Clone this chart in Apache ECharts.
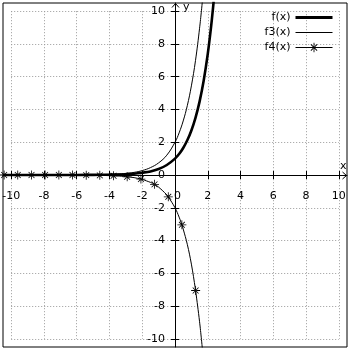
<!DOCTYPE html>
<html>
<head>
<meta charset="utf-8">
<script src="https://cdn.jsdelivr.net/npm/echarts@6/dist/echarts.min.js"></script>
<style>html,body{margin:0;padding:0;background:#fff}#c{width:350px;height:350px}</style>
</head>
<body>
<div id="c"></div>
<script>
// ---- data ----
var tickValues = [-10, -8, -6, -4, -2, 0, 2, 4, 6, 8, 10];
var seriesNames = ['f(x)', 'f3(x)', 'f4(x)'];

var fX  = [-10.5, -8, -6, -5, -4, -3.5, -3, -2.5, -2, -1.5, -1, -0.5, 0, 0.25, 0.5, 0.75, 1, 1.25, 1.5, 1.75, 2, 2.2, 2.36];
var fY  = [0, 0, 0, 0.01, 0.02, 0.03, 0.05, 0.08, 0.14, 0.22, 0.37, 0.61, 1.0, 1.28, 1.65, 2.12, 2.72, 3.49, 4.48, 5.75, 7.39, 9.03, 10.6];

var f3X = [-10.5, -8, -6, -5, -4, -3.5, -3, -2.5, -2, -1.5, -1, -0.5, 0, 0.25, 0.5, 0.75, 1, 1.25, 1.5, 1.67];
var f3Y = [0, 0, 0, 0.01, 0.04, 0.06, 0.1, 0.16, 0.27, 0.45, 0.74, 1.21, 2.0, 2.57, 3.3, 4.23, 5.44, 6.98, 8.96, 10.6];

var f4X = [-10.5, -8, -6, -5, -4, -3.5, -3, -2.5, -2, -1.5, -1, -0.5, 0, 0.25, 0.5, 0.75, 1, 1.25, 1.5, 1.67];
var f4Y = [0, 0, 0, -0.01, -0.04, -0.06, -0.1, -0.16, -0.27, -0.45, -0.74, -1.21, -2.0, -2.57, -3.3, -4.23, -5.44, -6.98, -8.96, -10.6];

var f4MarkX = [-10.43, -9.6, -8.76, -7.93, -7.09, -6.26, -5.42, -4.59, -3.75, -2.92, -2.08, -1.25, -0.41, 0.42, 1.26];
var f4MarkY = [0, 0, 0, 0, 0, 0, -0.01, -0.02, -0.05, -0.11, -0.25, -0.57, -1.33, -3.04, -7.05];

// ---- build series data ----
function pairs(xs, ys) { return xs.map(function (x, i) { return [x, ys[i]]; }); }
var f4Data = [];
f4X.forEach(function (x, i) { f4Data.push({ value: [x, f4Y[i]], symbol: 'none' }); });
f4MarkX.forEach(function (x, i) { f4Data.push({ value: [x, f4MarkY[i]] }); });
f4Data.sort(function (a, b) { return a.value[0] - b.value[0]; });

var star = 'path://M8.2,0H9.8V18H8.2Z M0,8.2H18V9.8H0Z M2.6,3.7L3.7,2.6L15.4,14.3L14.3,15.4Z M15.4,3.7L14.3,2.6L2.6,14.3L3.7,15.4Z';

var FONT = 'DejaVu Sans';
var gridLine = { show: true, lineStyle: { color: '#9a9a9a', type: [1, 2], width: 1 } };
var chart = echarts.init(document.getElementById('c'), null, { renderer: 'canvas' });

var U = 344 / 21;
var HALF = -10 * U; // move tick axes from the grid edge to the zero line
function inner() { return { left: 3 + 0.5 * U, top: 3 + 0.5 * U, width: 20 * U, height: 20 * U, outerBoundsMode: 'none', containLabel: false }; }
var tickStyle = { show: true, inside: false, length: 4, lineStyle: { color: '#000', width: 1 } };

chart.setOption({
  animation: false,
  textStyle: { fontFamily: FONT },
  grid: [
    { left: 3, top: 3, width: 344, height: 344, show: true, borderColor: '#000', borderWidth: 1, backgroundColor: 'rgba(0,0,0,0)', outerBoundsMode: 'none', containLabel: false },
    inner(),
    inner()
  ],
  legend: {
    orient: 'vertical', right: 16, top: 12, padding: 0,
    align: 'right', itemWidth: 37, itemHeight: 12, itemGap: 4,
    textStyle: { fontFamily: FONT, fontSize: 11, color: '#000' },
    data: [
      { name: seriesNames[0], itemStyle: { opacity: 0 }, lineStyle: { width: 3 } },
      { name: seriesNames[1], itemStyle: { opacity: 0 }, lineStyle: { width: 1 } },
      { name: seriesNames[2], lineStyle: { width: 1 } }
    ]
  },
  xAxis: [
    { gridIndex: 0, type: 'value', min: -10.5, max: 10.5, z: 4,
      axisLine: { show: true, onZero: true, lineStyle: { color: '#000', width: 1 } },
      axisTick: { show: false }, axisLabel: { show: false }, splitLine: { show: false } },
    { gridIndex: 1, type: 'value', min: -10, max: 10, interval: 2, position: 'bottom', offset: HALF,
      axisLine: { show: false, onZero: false },
      axisTick: tickStyle,
      axisLabel: { show: true, margin: 16, fontSize: 11, fontFamily: FONT, color: '#000', showMinLabel: true, showMaxLabel: true, hideOverlap: false,
        formatter: function (v) { return v === 0 ? '{z|0}' : String(v); },
        rich: { z: { padding: [0, 0, 0, 5], fontSize: 11, fontFamily: FONT, color: '#000' } } },
      splitLine: gridLine },
    { gridIndex: 2, type: 'value', min: -10, max: 10, interval: 2, position: 'top', offset: HALF,
      axisLine: { show: false, onZero: false },
      axisTick: tickStyle,
      axisLabel: { show: false }, splitLine: { show: false } }
  ],
  yAxis: [
    { gridIndex: 0, type: 'value', min: -10.5, max: 10.5, z: 4,
      axisLine: { show: true, onZero: true, lineStyle: { color: '#000', width: 1 } },
      axisTick: { show: false }, axisLabel: { show: false }, splitLine: { show: false } },
    { gridIndex: 1, type: 'value', min: -10, max: 10, interval: 2, position: 'left', offset: HALF,
      axisLine: { show: false, onZero: false },
      axisTick: tickStyle,
      axisLabel: { show: true, margin: 10, fontSize: 11, fontFamily: FONT, color: '#000', showMinLabel: true, showMaxLabel: true, hideOverlap: false },
      splitLine: gridLine },
    { gridIndex: 2, type: 'value', min: -10, max: 10, interval: 2, position: 'right', offset: HALF,
      axisLine: { show: false, onZero: false },
      axisTick: tickStyle,
      axisLabel: { show: false }, splitLine: { show: false } }
  ],
  series: [
    { name: seriesNames[0], type: 'line', xAxisIndex: 0, yAxisIndex: 0, data: pairs(fX, fY),
      symbol: 'none', smooth: 0.4, z: 5,
      lineStyle: { color: '#000', width: 2.6 }, itemStyle: { color: '#000' } },
    { name: seriesNames[1], type: 'line', xAxisIndex: 0, yAxisIndex: 0, data: pairs(f3X, f3Y),
      symbol: 'none', smooth: 0.4, z: 5,
      lineStyle: { color: '#000', width: 1 }, itemStyle: { color: '#000' } },
    { name: seriesNames[2], type: 'line', xAxisIndex: 0, yAxisIndex: 0, data: f4Data,
      symbol: star, symbolSize: 9, showSymbol: true, showAllSymbol: true, smooth: 0.4, z: 5,
      lineStyle: { color: '#000', width: 1 }, itemStyle: { color: '#000' } }
  ],
  graphic: [
    { type: 'polyline', shape: { points: [[172, 7.5], [175.5, 3.5], [179, 7.5]] }, style: { stroke: '#000', fill: null, lineWidth: 1 }, z: 10 },
    { type: 'polyline', shape: { points: [[342.5, 172], [346.5, 175.5], [342.5, 179]] }, style: { stroke: '#000', fill: null, lineWidth: 1 }, z: 10 },
    { type: 'text', left: 183, top: 2, style: { text: 'y', font: '11px "DejaVu Sans"', fill: '#000' }, z: 10 },
    { type: 'text', left: 340, top: 161, style: { text: 'x', font: '11px "DejaVu Sans"', fill: '#000' }, z: 10 }
  ]
});
</script>
</body>
</html>
